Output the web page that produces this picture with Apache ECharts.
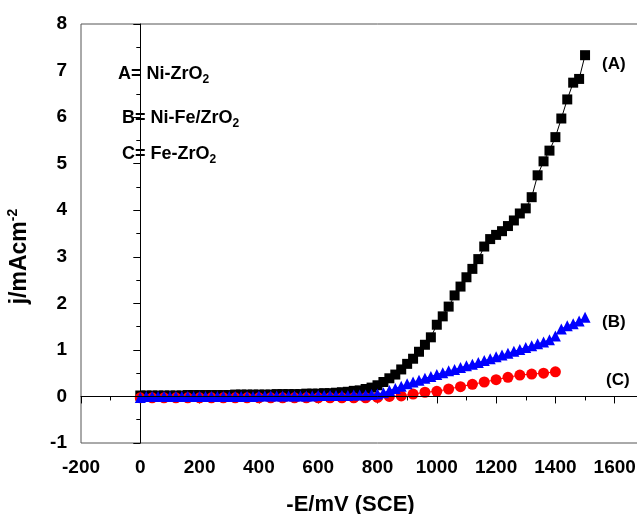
<!DOCTYPE html>
<html>
<head>
<meta charset="utf-8">
<script src="https://cdn.jsdelivr.net/npm/echarts@6/dist/echarts.min.js"></script>
<style>html,body{margin:0;padding:0;background:#fff;overflow:hidden}#c{width:674px;height:514px}</style>
</head>
<body>
<div id="c"></div>
<script>
// Series A: Ni-ZrO2 (black squares)
const xA = [0,20,40,60,80,100,120,140,160,180,200,220,240,260,280,300,320,340,360,380,400,420,440,460,480,500,520,540,560,580,600,620,640,660,680,700,720,740,760,780,800,820,840,860,880,900,920,940,960,980,1000,1020,1040,1060,1080,1100,1120,1140,1160,1180,1200,1220,1240,1260,1280,1300,1320,1340,1360,1380,1400,1420,1440,1460,1480,1500];
const yA = [0.02,0.02,0.02,0.02,0.02,0.02,0.02,0.02,0.03,0.03,0.03,0.03,0.03,0.03,0.03,0.03,0.04,0.04,0.04,0.04,0.04,0.04,0.04,0.05,0.05,0.05,0.05,0.05,0.06,0.06,0.06,0.07,0.07,0.08,0.09,0.10,0.12,0.13,0.16,0.19,0.24,0.31,0.39,0.47,0.58,0.70,0.81,0.96,1.11,1.27,1.54,1.72,1.93,2.17,2.36,2.56,2.74,2.95,3.22,3.38,3.47,3.55,3.66,3.78,3.93,4.04,4.28,4.75,5.05,5.28,5.57,5.97,6.38,6.74,6.82,7.33];
// Series B: Ni-Fe/ZrO2 (blue triangles)
const xB = [0,20,40,60,80,100,120,140,160,180,200,220,240,260,280,300,320,340,360,380,400,420,440,460,480,500,520,540,560,580,600,620,640,660,680,700,720,740,760,780,800,820,840,860,880,900,920,940,960,980,1000,1020,1040,1060,1080,1100,1120,1140,1160,1180,1200,1220,1240,1260,1280,1300,1320,1340,1360,1380,1400,1420,1440,1460,1480,1500];
const yB = [-0.02,0.0,0.0,0.0,0.0,0.0,0.0,0.0,0.0,0.0,0.0,0.0,0.0,0.0,0.0,0.0,0.0,0.0,0.0,0.0,0.01,0.01,0.01,0.01,0.01,0.01,0.01,0.01,0.01,0.01,0.02,0.02,0.02,0.02,0.02,0.02,0.03,0.03,0.03,0.04,0.05,0.08,0.13,0.17,0.22,0.27,0.31,0.35,0.39,0.43,0.47,0.51,0.55,0.58,0.62,0.66,0.69,0.73,0.77,0.81,0.85,0.89,0.93,0.97,1.01,1.05,1.09,1.13,1.17,1.22,1.30,1.45,1.52,1.56,1.62,1.70];
// Series C: Fe-ZrO2 (red circles)
const xC = [0,40,80,120,160,200,240,280,320,360,400,440,480,520,560,600,640,680,720,760,800,840,880,920,960,1000,1040,1080,1120,1160,1200,1240,1280,1320,1360,1400];
const yC = [-0.03,-0.03,-0.03,-0.03,-0.03,-0.03,-0.03,-0.03,-0.03,-0.03,-0.03,-0.03,-0.03,-0.03,-0.03,-0.03,-0.03,-0.03,-0.03,-0.03,-0.02,0.0,0.01,0.05,0.09,0.11,0.16,0.21,0.26,0.31,0.36,0.41,0.46,0.48,0.50,0.53];
const xTickLabels = ['-200','0','200','400','600','800','1000','1200','1400','1600'];
const legendLines = [['A= Ni-ZrO','2'],['B= Ni-Fe/ZrO','2'],['C= Fe-ZrO','2']];
const curveLabels = ['(A)','(B)','(C)'];
const xName = '-E/mV (SCE)';
const yName = ['j/mAcm','-2'];

const F = '"Liberation Sans", Arial, sans-serif';
const zip = (xs, ys) => xs.map((x, i) => [x, ys[i]]);
const chart = echarts.init(document.getElementById('c'), null, {renderer: 'canvas'});
const legPos = [[118, 65], [122, 109], [122, 145]];
const labPos = [[602, 56], [602, 314], [606, 372]];
const graphic = [];
legendLines.forEach((l, i) => {
  graphic.push({type: 'text', left: legPos[i][0], top: legPos[i][1], z: 10,
    style: {text: '{m|' + l[0] + '}{s|' + l[1] + '}', fill: '#000',
      rich: {m: {fontFamily: F, fontWeight: 'bold', fontSize: 18, fill: '#000'},
             s: {fontFamily: F, fontWeight: 'bold', fontSize: 12, fill: '#000', padding: [12, 0, 0, 0]}}}});
});
curveLabels.forEach((t, i) => {
  graphic.push({type: 'text', left: labPos[i][0], top: labPos[i][1], z: 10,
    style: {text: t, fill: '#000', font: 'bold 17px ' + F}});
});
const labStyle = {color: '#000', fontFamily: F, fontWeight: 'bold', fontSize: 19};
chart.setOption({
  animation: false,
  backgroundColor: '#fff',
  grid: {left: 81, top: 24, right: 0, bottom: 71, show: true, borderColor: '#555', borderWidth: 1,
         containLabel: false, outerBoundsMode: 'none'},
  xAxis: {type: 'value', min: -200, max: 1800, interval: 200,
    name: xName, nameLocation: 'middle', nameGap: 51,
    nameTextStyle: {color: '#000', fontFamily: F, fontWeight: 'bold', fontSize: 22, padding: [0, 54, 0, 0]},
    axisLine: {lineStyle: {color: '#000', width: 1}},
    axisTick: {show: true, length: 7, lineStyle: {color: '#000'}},
    minorTick: {show: true, splitNumber: 2, length: 4, lineStyle: {color: '#000'}},
    splitLine: {show: false},
    axisLabel: Object.assign({margin: 15, formatter: v => xTickLabels.indexOf(String(v)) >= 0 ? String(v) : ''}, labStyle)},
  yAxis: {type: 'value', min: -1, max: 8, interval: 1,
    name: '{a|' + yName[0] + '}{s|' + yName[1] + '}', nameLocation: 'middle', nameGap: 47, nameRotate: 90,
    nameTextStyle: {color: '#000', padding: [0, 46, 0, 0],
      rich: {a: {fontFamily: F, fontWeight: 'bold', fontSize: 23, color: '#000'},
             s: {fontFamily: F, fontWeight: 'bold', fontSize: 14, color: '#000', padding: [0, 0, 14, 0]}}},
    axisLine: {show: true, lineStyle: {color: '#000', width: 1}},
    axisTick: {show: true, length: 7, lineStyle: {color: '#000'}},
    minorTick: {show: true, splitNumber: 2, length: 4, lineStyle: {color: '#000'}},
    splitLine: {show: false},
    axisLabel: Object.assign({margin: 14, formatter: v => String(v)}, labStyle)},
  graphic: graphic,
  series: [
    {name: 'A', type: 'line', data: zip(xA, yA), symbol: 'rect', symbolSize: 10, showAllSymbol: true,
     itemStyle: {color: '#000'}, lineStyle: {color: '#000', width: 1}, z: 2,
     markLine: {silent: true, symbol: 'none', label: {show: false}, lineStyle: {color: '#000', width: 1, type: 'solid'},
       data: [{yAxis: 0}]}},
    {name: 'C', type: 'line', data: zip(xC, yC), symbol: 'circle', symbolSize: 11, showAllSymbol: true,
     itemStyle: {color: '#ff0000'}, lineStyle: {color: '#ff0000', width: 1}, z: 3},
    {name: 'B', type: 'line', data: zip(xB, yB), symbol: 'triangle', symbolSize: 11, showAllSymbol: true,
     itemStyle: {color: '#0000ff'}, lineStyle: {color: '#0000ff', width: 1}, z: 4}
  ]
});
</script>
</body>
</html>
